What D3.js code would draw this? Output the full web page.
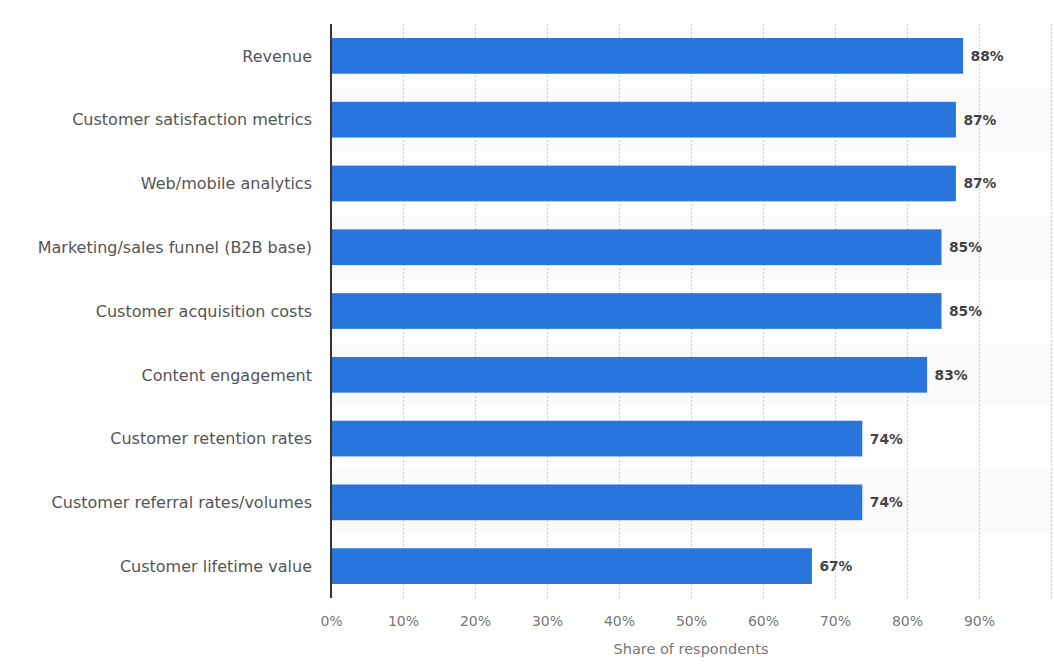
<!DOCTYPE html>
<meta charset="utf-8">
<style>
	body { margin: 0; background: #fff; }
	svg text { font-family: "DejaVu Sans", Verdana, sans-serif; }
	.cat { fill: #555; font-size: 16px; }
	.val { fill: #444; font-size: 13.8px; font-weight: bold; }
	.tick text { fill: #777; font-size: 14px; }
	.grid line { stroke: #ccc; stroke-dasharray: 2, 2; }
</style>
<body>
<div id="chart"></div>
<script src="https://d3js.org/d3.v7.min.js"></script>
<script>
	const categories = [
		"Revenue",
		"Customer satisfaction metrics",
		"Web/mobile analytics",
		"Marketing/sales funnel (B2B base)",
		"Customer acquisition costs",
		"Content engagement",
		"Customer retention rates",
		"Customer referral rates/volumes",
		"Customer lifetime value"
	];
	const values = [88, 87, 87, 85, 85, 83, 74, 74, 67];
	const xTicks = [0, 10, 20, 30, 40, 50, 60, 70, 80, 90];
	const gridTicks = [10, 20, 30, 40, 50, 60, 70, 80, 90, 100];

	const width = 1054, height = 666;
	const plotLeft = 331, plotTop = 24, plotW = 720, plotH = 574;

	const svg = d3.select("#chart").append("svg")
		.attr("width", width)
		.attr("height", height);

	const x = d3.scaleLinear().domain([0, 100]).range([plotLeft, plotLeft + plotW]);
	const y = d3.scaleBand().domain(categories)
		.range([plotTop, plotTop + plotH])
		.paddingInner(0.44)
		.paddingOuter(0.22);
	const step = y.step();

	// alternating row shading
	svg.append("g").selectAll("rect")
		.data(categories.filter((d, i) => i % 2 === 1))
		.join("rect")
		.attr("x", plotLeft)
		.attr("width", width - plotLeft)
		.attr("y", d => y(d) - step * 0.22)
		.attr("height", step)
		.attr("fill", "#fafafa");

	// grid lines
	svg.append("g").attr("class", "grid").selectAll("line")
		.data(gridTicks)
		.join("line")
		.attr("x1", d => x(d) + 0.5).attr("x2", d => x(d) + 0.5)
		.attr("y1", plotTop).attr("y2", plotTop + plotH);

	// bars
	const data = categories.map((c, i) => ({ name: c, value: values[i] }));
	svg.append("g").selectAll("rect")
		.data(data)
		.join("rect")
		.attr("x", x(0))
		.attr("y", d => y(d.name))
		.attr("width", d => x(d.value) - x(0) - 1.5)
		.attr("height", y.bandwidth())
		.attr("fill", "#2876dd");

	// value labels
	svg.append("g").selectAll("text")
		.data(data)
		.join("text")
		.attr("class", "val")
		.attr("x", d => x(d.value) + 6)
		.attr("y", d => y(d.name) + y.bandwidth() / 2)
		.attr("dy", "0.36em")
		.text(d => d.value + "%");

	// category labels
	svg.append("g").selectAll("text")
		.data(categories)
		.join("text")
		.attr("class", "cat")
		.attr("x", plotLeft - 19)
		.attr("y", d => y(d) + y.bandwidth() / 2)
		.attr("dy", "0.36em")
		.attr("text-anchor", "end")
		.text(d => d);

	// left axis line
	svg.append("line")
		.attr("x1", plotLeft).attr("x2", plotLeft)
		.attr("y1", plotTop).attr("y2", plotTop + plotH)
		.attr("stroke", "#333").attr("stroke-width", 2);

	// x axis
	svg.append("g")
		.attr("transform", `translate(0, ${plotTop + plotH + 12})`)
		.call(d3.axisBottom(x).tickValues(xTicks).tickSize(0).tickFormat(d => d + "%"))
		.call(g => g.select(".domain").remove())
		.call(g => g.selectAll("text").attr("dy", "0.9em"));

	svg.append("text")
		.attr("x", 691)
		.attr("y", 654)
		.attr("text-anchor", "middle")
		.attr("fill", "#777")
		.style("font-size", "14.5px")
		.text("Share of respondents");
</script>
</body>
